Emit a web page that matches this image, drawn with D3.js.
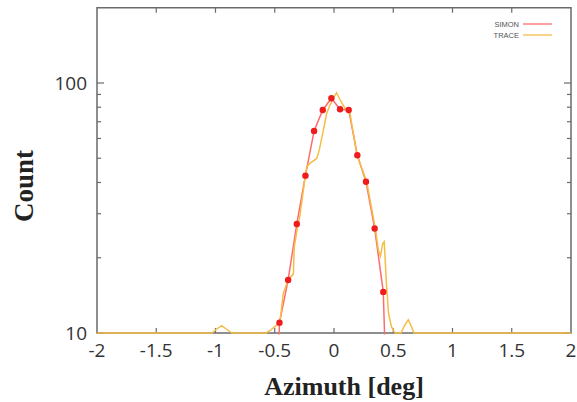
<!DOCTYPE html>
<html>
<head>
<meta charset="utf-8">
<script src="https://cdn.jsdelivr.net/npm/d3@7"></script>
<style>
  html, body { margin: 0; padding: 0; background: #fff; }
  svg { display: block; }
</style>
</head>
<body>
<svg id="chart" width="577" height="402"></svg>
<script>
// ---- data ----
const xTicks = [-2, -1.5, -1, -0.5, 0, 0.5, 1, 1.5, 2];
const xTickLabels = ["-2", "-1.5", "-1", "-0.5", "0", "0.5", "1", "1.5", "2"];
const yMajorTicks = [10, 100];
const yMinorTicks = [20, 30, 40, 50, 60, 70, 80, 90];

// SIMON: binned histogram (values below 10 fall off the log axis)
const simonX = [-0.533, -0.46, -0.387, -0.314, -0.241, -0.168, -0.095, -0.022, 0.051, 0.124, 0.197, 0.27, 0.343, 0.416, 0.489];
const simonY = [1, 11.0, 16.3, 27.3, 42.6, 64.3, 78, 86.9, 78.5, 78, 51.4, 40.3, 26.2, 14.6, 1];

// TRACE: finer curve
const traceX = [-2, -1.03, -0.987, -0.948, -0.911, -0.861, -0.574, -0.532, -0.489, -0.456, -0.428, -0.388,
  -0.343, -0.335, -0.315, -0.287, -0.242, -0.230, -0.203, -0.146, -0.124, -0.090, -0.062, -0.034, -0.006,
  0.021, 0.051, 0.093, 0.135, 0.194, 0.276, 0.349, 0.374, 0.392, 0.411, 0.424, 0.443, 0.460, 0.485, 0.515,
  0.565, 0.595, 0.627, 0.650, 0.675, 2];
const traceY = [10, 10, 10.4, 10.7, 10.4, 10, 10, 10.3, 10.7, 11.1, 14.4, 16.3,
  17.2, 22.1, 25.3, 29.6, 42.6, 46.3, 47.7, 49.9, 54, 64.6, 75.5, 81.6, 86.7,
  91.4, 85.7, 79.2, 75.6, 51.4, 40.3, 26.2, 21.5, 20.3, 22.8, 23.2, 15.6, 12.0, 10.6, 10,
  10, 10.7, 11.3, 10.7, 10, 10];

const legendNames = ["SIMON", "TRACE"];

// ---- layout ----
const L = 97, R = 571, T = 7.75, B = 333;
const svg = d3.select("#chart");
const x = d3.scaleLinear().domain([-2, 2]).range([L, R]);
const y = d3.scaleLog().domain([10, 200]).range([B, T]);

const frameColor = "#6a6a6a";
const redLine = "#ff6b6b";
const redDot = "#ee1c1c";
const orange = "#f6bd45";

// clip
svg.append("defs").append("clipPath").attr("id", "clip")
  .append("rect").attr("x", L).attr("y", T).attr("width", R - L).attr("height", B - T + 1.5);

// ticks (inward, mirrored)
const tk = svg.append("g").attr("stroke", frameColor).attr("stroke-width", 1.2);
xTicks.slice(1, -1).forEach(v => {
  tk.append("line").attr("x1", x(v)).attr("x2", x(v)).attr("y1", B).attr("y2", B - 5);
  tk.append("line").attr("x1", x(v)).attr("x2", x(v)).attr("y1", T).attr("y2", T + 5);
});
yMajorTicks.forEach(v => {
  tk.append("line").attr("x1", L).attr("x2", L + 7).attr("y1", y(v)).attr("y2", y(v));
  tk.append("line").attr("x1", R).attr("x2", R - 7).attr("y1", y(v)).attr("y2", y(v));
});
yMinorTicks.forEach(v => {
  tk.append("line").attr("x1", L).attr("x2", L + 4).attr("y1", y(v)).attr("y2", y(v));
  tk.append("line").attr("x1", R).attr("x2", R - 4).attr("y1", y(v)).attr("y2", y(v));
});

// frame
svg.append("rect").attr("x", L).attr("y", T).attr("width", R - L).attr("height", B - T)
  .attr("fill", "none").attr("stroke", frameColor).attr("stroke-width", 1.5);

// lines
const plot = svg.append("g").attr("clip-path", "url(#clip)");
const line = d3.line().x(d => x(d[0])).y(d => y(Math.max(d[1], 0.5)));
const simon = simonX.map((v, i) => [v, simonY[i]]);
const trace = traceX.map((v, i) => [v, traceY[i]]);

plot.append("path").datum(simon).attr("d", line)
  .attr("fill", "none").attr("stroke", redLine).attr("stroke-width", 1.5);
plot.append("path").datum(trace).attr("d", line)
  .attr("fill", "none").attr("stroke", orange).attr("stroke-width", 1.5);
plot.selectAll("circle").data(simon.filter(d => d[1] >= 10)).join("circle")
  .attr("cx", d => x(d[0])).attr("cy", d => y(d[1])).attr("r", 3.2)
  .attr("fill", redDot);

// tick labels
const tickFont = "'Open Sans', 'Liberation Sans', sans-serif";
svg.append("g").selectAll("text").data(xTicks).join("text")
  .attr("x", d => x(d)).attr("y", 357)
  .attr("text-anchor", "middle")
  .attr("font-family", tickFont).attr("font-size", 19).attr("fill", "#333")
  .text((d, i) => xTickLabels[i]);
svg.append("g").selectAll("text").data(yMajorTicks).join("text")
  .attr("x", 87).attr("y", d => y(d) + 7)
  .attr("text-anchor", "end")
  .attr("font-family", tickFont).attr("font-size", 19).attr("fill", "#333")
  .text(d => String(d));

// axis titles
svg.append("text").attr("x", 344).attr("y", 395).attr("text-anchor", "middle")
  .attr("font-family", "'Liberation Serif', 'Times New Roman', serif").attr("font-weight", "bold")
  .attr("font-size", 26).attr("fill", "#222").text("Azimuth [deg]");
svg.append("text").attr("transform", "translate(33,186) rotate(-90)").attr("text-anchor", "middle")
  .attr("font-family", "'Liberation Serif', 'Times New Roman', serif").attr("font-weight", "bold")
  .attr("font-size", 27).attr("fill", "#222").text("Count");

// legend
const lg = svg.append("g");
[redLine, orange].forEach((c, i) => {
  const yy = 24 + i * 11;
  lg.append("text").attr("x", 519).attr("y", yy + 2.5).attr("text-anchor", "end")
    .attr("font-family", "'Liberation Sans', Arial, sans-serif").attr("font-size", 7.5)
    .attr("fill", "#555").text(legendNames[i]);
  lg.append("line").attr("x1", 523).attr("x2", 552).attr("y1", yy).attr("y2", yy)
    .attr("stroke", c).attr("stroke-width", 1.3);
});
</script>
</body>
</html>
